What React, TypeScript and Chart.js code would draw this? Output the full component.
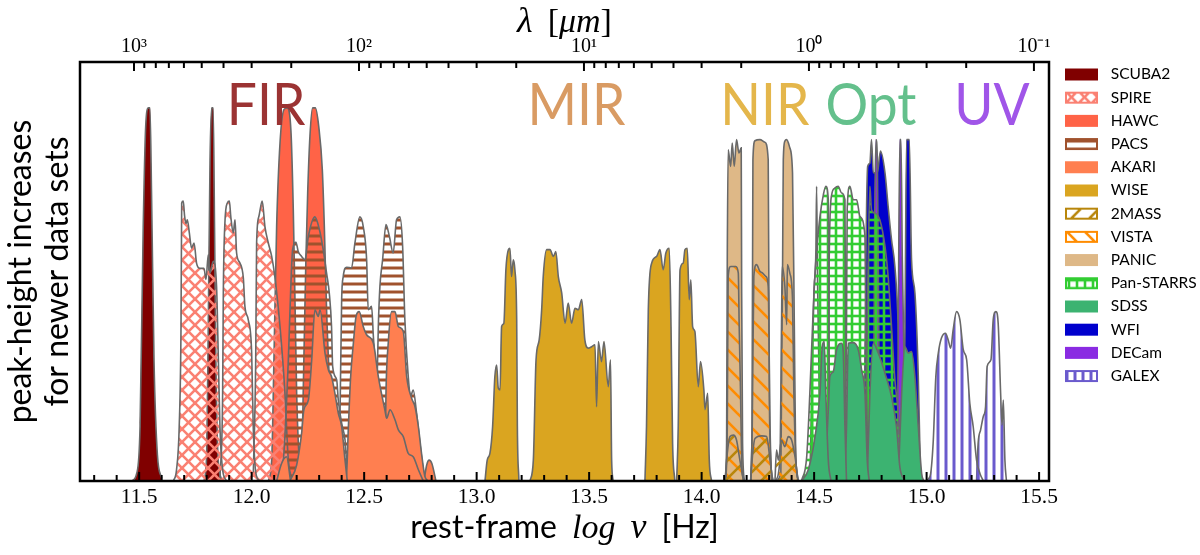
import React, { useEffect, useRef } from "react";
import { Chart, registerables } from "chart.js";

Chart.register(...registerables);

type Pair = [number, number];

const SCUBA2_A: Pair[] = [[11.467,0],[11.489,.02],[11.504,.146],[11.518,.68],[11.529,.95],[11.541,1],[11.548,1],[11.555,.77],[11.566,.32],[11.581,.07],[11.6,.007]];
const SCUBA2_B: Pair[] = [[11.788,0],[11.8,.07],[11.807,.41],[11.815,.86],[11.822,1],[11.829,1],[11.835,.68],[11.841,.32],[11.85,.07],[11.866,.003]];
const SPIRE_A: Pair[] = [[11.652,0],[11.666,.03],[11.678,.146],[11.686,.414],[11.689,.745],[11.696,.75],[11.702,.71],[11.708,.69],[11.714,.7],[11.723,.665],[11.733,.624],[11.744,.638],[11.755,.584],[11.77,.57],[11.788,.57],[11.797,.54],[11.807,.606],[11.815,.557],[11.829,.589],[11.844,.521],[11.852,.325],[11.859,.146],[11.871,.03],[11.889,0]];
const SPIRE_B: Pair[] = [[11.859,.007],[11.871,.235],[11.874,.504],[11.881,.691],[11.892,.745],[11.901,.75],[11.907,.71],[11.918,.665],[11.926,.7],[11.933,.611],[11.948,.584],[11.963,.544],[11.97,.468],[11.985,.432],[12,.343],[12.007,.146],[12.019,.02],[12.037,0]];
const SPIRE_C: Pair[] = [[12.007,.012],[12.018,.325],[12.022,.638],[12.032,.709],[12.047,.75],[12.059,.682],[12.074,.638],[12.089,.602],[12.103,.548],[12.126,.414],[12.148,.235],[12.163,.056],[12.185,0]];
const HAWC_A: Pair[] = [[12.074,0],[12.089,.056],[12.099,.325],[12.111,.682],[12.126,.906],[12.144,.996],[12.158,1],[12.175,.933],[12.185,.727],[12.192,.504],[12.2,.235],[12.215,.03],[12.229,0]];
const HAWC_B: Pair[] = [[12.207,0],[12.222,.056],[12.232,.325],[12.241,.593],[12.249,.772],[12.259,.924],[12.271,1],[12.283,1],[12.298,.951],[12.314,.835],[12.323,.682],[12.333,.459],[12.348,.235],[12.363,.056],[12.378,0]];
const PACS_A: Pair[] = [[12.118,0],[12.141,.056],[12.163,.325],[12.173,.504],[12.182,.62],[12.197,.64],[12.207,.615],[12.222,.602],[12.237,.593],[12.252,.656],[12.281,.708],[12.301,.674],[12.318,.62],[12.333,.557],[12.345,.504],[12.355,.414],[12.36,.307],[12.378,.271],[12.385,.217],[12.4,.155],[12.415,.11],[12.425,.03],[12.44,0]];
const PACS_B: Pair[] = [[12.385,0],[12.392,.146],[12.4,.486],[12.407,.548],[12.422,.573],[12.444,.571],[12.459,.638],[12.481,.708],[12.496,.682],[12.511,.593],[12.518,.459],[12.533,.468],[12.541,.387],[12.548,.325],[12.563,.208],[12.578,.191],[12.592,.146],[12.607,0]];
const PACS_C: Pair[] = [[12.548,0],[12.563,.414],[12.57,.521],[12.582,.593],[12.597,.687],[12.612,.656],[12.629,.611],[12.644,.7],[12.659,.708],[12.671,.629],[12.681,.432],[12.696,.28],[12.706,.226],[12.718,.244],[12.733,.182],[12.748,.101],[12.763,.03],[12.778,0]];
const AKARI_A: Pair[] = [[12.111,0],[12.133,.047],[12.155,.065],[12.173,0]];
const AKARI_B: Pair[] = [[12.17,0],[12.2,.043],[12.222,.128],[12.232,.191],[12.252,.217],[12.267,.325],[12.281,.459],[12.296,.441],[12.304,.459],[12.326,.343],[12.341,.298],[12.355,.28],[12.37,.235],[12.385,.182],[12.4,.146],[12.415,.056],[12.425,0]];
const AKARI_C: Pair[] = [[12.415,0],[12.422,.02],[12.43,.146],[12.44,.28],[12.452,.369],[12.464,.441],[12.478,.454],[12.496,.414],[12.511,.392],[12.541,.369],[12.563,.28],[12.592,.191],[12.6,.168],[12.615,.191],[12.637,.164],[12.652,.137],[12.674,.119],[12.696,.074],[12.718,.065],[12.741,.03],[12.763,0]];
const AKARI_D: Pair[] = [[12.592,0],[12.597,.235],[12.607,.369],[12.622,.454],[12.637,.454],[12.652,.414],[12.674,.401],[12.689,.28],[12.711,.222],[12.726,.199],[12.741,.146],[12.755,.074],[12.77,.012],[12.785,0]];
const AKARI_E: Pair[] = [[12.766,0],[12.778,.043],[12.789,.056],[12.801,.047],[12.819,0]];
const WISE_A: Pair[] = [[13.037,0],[13.047,.056],[13.059,.074],[13.071,.146],[13.081,.28],[13.089,.311],[13.096,.249],[13.104,.244],[13.111,.414],[13.121,.423],[13.13,.566],[13.141,.62],[13.148,.624],[13.155,.548],[13.163,.593],[13.17,.566],[13.178,.432],[13.181,.146],[13.188,0]];
const WISE_B: Pair[] = [[13.237,0],[13.252,.056],[13.264,.325],[13.278,.378],[13.289,.459],[13.296,.548],[13.311,.62],[13.326,.62],[13.341,.602],[13.352,.615],[13.363,.548],[13.378,.504],[13.393,.423],[13.407,.477],[13.422,.423],[13.437,.463],[13.452,.459],[13.467,.486],[13.481,.378],[13.496,.356],[13.511,.36],[13.526,.365],[13.533,.199],[13.541,.374],[13.555,.32],[13.566,.374],[13.585,.253],[13.595,.325],[13.6,.056],[13.607,0]];
const WISE_C: Pair[] = [[13.748,0],[13.755,.146],[13.763,.459],[13.778,.584],[13.8,.602],[13.815,.62],[13.829,.566],[13.841,.611],[13.856,.624],[13.864,.414],[13.871,.101],[13.881,0]];
const WISE_D: Pair[] = [[13.889,0],[13.896,.146],[13.904,.566],[13.918,.584],[13.926,.62],[13.936,.624],[13.945,.486],[13.952,.539],[13.96,.414],[13.97,.401],[13.985,.253],[13.995,.32],[14.01,.244],[14.015,.191],[14.027,.235],[14.034,.056],[14.044,0]];
const TWOMASS_A: Pair[] = [[14.104,0],[14.114,.074],[14.126,.119],[14.141,.123],[14.155,.11],[14.17,.056],[14.185,.007],[14.192,0]];
const TWOMASS_B: Pair[] = [[14.218,0],[14.227,.074],[14.237,.114],[14.267,.121],[14.289,.119],[14.304,.056],[14.316,0]];
const TWOMASS_C: Pair[] = [[14.326,0],[14.333,.083],[14.341,.056],[14.355,.11],[14.37,.092],[14.385,.119],[14.4,.11],[14.415,.065],[14.429,0]];
const VISTA_A: Pair[] = [[14.108,0],[14.114,.146],[14.118,.548],[14.129,.575],[14.152,.575],[14.163,.557],[14.167,.414],[14.173,.235],[14.178,.056],[14.185,0]];
const VISTA_B: Pair[] = [[14.218,0],[14.225,.146],[14.232,.548],[14.244,.58],[14.259,.562],[14.271,.557],[14.286,.548],[14.296,.521],[14.304,.146],[14.311,0]];
const VISTA_C: Pair[] = [[14.326,0],[14.348,.056],[14.355,.414],[14.358,.575],[14.37,.521],[14.378,.419],[14.381,.58],[14.392,.557],[14.404,.486],[14.41,.235],[14.419,.056],[14.429,0]];
const PANIC_A: Pair[] = [[14.104,0],[14.111,.101],[14.114,.593],[14.118,.888],[14.129,.843],[14.136,.906],[14.145,.843],[14.155,.915],[14.166,.879],[14.176,.893],[14.178,.504],[14.182,.101],[14.19,0]];
const PANIC_B: Pair[] = [[14.218,0],[14.224,.146],[14.228,.861],[14.237,.912],[14.259,.915],[14.281,.908],[14.296,.861],[14.301,.235],[14.307,.056],[14.318,0]];
const PANIC_C: Pair[] = [[14.326,0],[14.352,.02],[14.355,.235],[14.36,.593],[14.363,.861],[14.37,.911],[14.378,.915],[14.392,.893],[14.404,.826],[14.412,.414],[14.418,.074],[14.429,0]];
const PANSTARRS_A: Pair[] = [[14.444,0],[14.467,.065],[14.481,.235],[14.496,.459],[14.508,.593],[14.526,.709],[14.541,.767],[14.552,.79],[14.563,.754],[14.567,.235],[14.573,0]];
const PANSTARRS_B: Pair[] = [[14.563,0],[14.567,.593],[14.578,.767],[14.592,.785],[14.607,.79],[14.622,.772],[14.637,.754],[14.641,.235],[14.647,0]];
const PANSTARRS_C: Pair[] = [[14.637,0],[14.644,.414],[14.647,.727],[14.659,.79],[14.674,.754],[14.689,.754],[14.704,.709],[14.726,.656],[14.733,.235],[14.742,0]];
const PANSTARRS_D: Pair[] = [[14.726,0],[14.736,.414],[14.748,.79],[14.755,.727],[14.77,.718],[14.792,.7],[14.815,.629],[14.829,.548],[14.844,.414],[14.859,.271],[14.874,.182],[14.889,.02],[14.904,0]];
const PANSTARRS_E: Pair[] = [[14.481,0],[14.493,.325],[14.499,.504],[14.508,.62],[14.511,.79],[14.515,.548],[14.523,.235],[14.533,0]];
const SDSS_A: Pair[] = [[14.444,0],[14.474,.03],[14.504,.119],[14.526,.235],[14.536,.36],[14.545,.374],[14.552,.235],[14.563,.056],[14.575,0]];
const SDSS_B: Pair[] = [[14.548,0],[14.563,.191],[14.57,.28],[14.585,.293],[14.6,.352],[14.622,.369],[14.629,.352],[14.637,.146],[14.644,0]];
const SDSS_C: Pair[] = [[14.637,0],[14.644,.146],[14.652,.369],[14.674,.371],[14.696,.352],[14.711,.298],[14.726,.235],[14.736,.056],[14.745,0]];
const SDSS_D: Pair[] = [[14.736,0],[14.748,.235],[14.763,.369],[14.785,.343],[14.815,.289],[14.844,.226],[14.866,.146],[14.881,.038],[14.904,0]];
const SDSS_E: Pair[] = [[14.874,0],[14.889,.235],[14.904,.36],[14.918,.343],[14.933,.347],[14.948,.28],[14.963,.146],[14.978,.02],[14.988,0]];
const WFI_A: Pair[] = [[14.721,0],[14.73,.593],[14.738,.843],[14.748,.852],[14.755,.915],[14.763,.826],[14.781,.826],[14.795,.884],[14.815,.826],[14.829,.736],[14.844,.647],[14.859,.575],[14.874,.414],[14.884,.146],[14.896,0]];
const WFI_B: Pair[] = [[14.896,0],[14.904,.414],[14.911,.915],[14.923,.915],[14.933,.593],[14.948,.504],[14.963,.28],[14.973,0]];
const DECAM_A: Pair[] = [[14.763,0],[14.769,.682],[14.775,.915],[14.781,.861],[14.785,.593],[14.792,0]];
const DECAM_B: Pair[] = [[14.87,0],[14.875,.504],[14.881,.915],[14.886,.915],[14.892,.593],[14.902,.235],[14.914,0]];
const GALEX_A: Pair[] = [[14.992,0],[15.015,.012],[15.029,.101],[15.041,.28],[15.052,.343],[15.066,.383],[15.084,.396],[15.096,.378],[15.107,.356],[15.118,.405],[15.133,.454],[15.148,.432],[15.163,.352],[15.178,.325],[15.192,.208],[15.207,.146],[15.222,.056],[15.237,.02],[15.252,0]];
const GALEX_B: Pair[] = [[15.222,0],[15.229,.101],[15.24,.137],[15.252,.173],[15.262,.199],[15.269,.307],[15.286,.325],[15.296,.432],[15.308,.454],[15.318,.423],[15.329,.235],[15.335,.15],[15.341,.217],[15.348,.056],[15.355,0]];

// legend order; layer = painting order (higher paints on top)
const INSTRUMENTS = [
  { name: "SCUBA2", layer: 0, color: "#800000", bands: [SCUBA2_A, SCUBA2_B] },
  { name: "SPIRE", layer: 2, hatch: "x", tile: 13, lw: 2.6, color: "#fa8072", bands: [SPIRE_A, SPIRE_B, SPIRE_C] },
  { name: "HAWC", layer: 1, color: "#ff6347", bands: [HAWC_A, HAWC_B] },
  { name: "PACS", layer: 3, hatch: "-", tile: 8, lw: 3, color: "#a0522d", bands: [PACS_A, PACS_B, PACS_C] },
  { name: "AKARI", layer: 4, color: "#ff7f50", bands: [AKARI_A, AKARI_B, AKARI_C, AKARI_D, AKARI_E] },
  { name: "WISE", layer: 5, color: "#daa520", bands: [WISE_A, WISE_B, WISE_C, WISE_D] },
  { name: "2MASS", layer: 8, hatch: "/", tile: 18, lw: 2.6, color: "#b8860b", bands: [TWOMASS_A, TWOMASS_B, TWOMASS_C] },
  { name: "VISTA", layer: 7, hatch: "\\", tile: 18, lw: 2.6, color: "#ff8c00", bands: [VISTA_A, VISTA_B, VISTA_C] },
  { name: "PANIC", layer: 6, color: "#deb887", bands: [PANIC_A, PANIC_B, PANIC_C] },
  { name: "Pan-STARRS", layer: 11, hatch: "+", tile: 8, lw: 2.6, color: "#32cd32", bands: [PANSTARRS_A, PANSTARRS_B, PANSTARRS_C, PANSTARRS_D, PANSTARRS_E] },
  { name: "SDSS", layer: 12, color: "#3cb371", bands: [SDSS_A, SDSS_B, SDSS_C, SDSS_D, SDSS_E] },
  { name: "WFI", layer: 9, color: "#0000cd", bands: [WFI_A, WFI_B] },
  { name: "DECam", layer: 10, color: "#8a2be2", bands: [DECAM_A, DECAM_B] },
  { name: "GALEX", layer: 13, hatch: "|", tile: 8, lw: 3, color: "#6a5acd", bands: [GALEX_A, GALEX_B] },
];

const REGION_NAMES = ["FIR", "MIR", "NIR", "Opt", "UV"];
const REGION_X = [12.064, 13.444, 14.281, 14.753, 15.29];
const REGION_COLORS = ["#9b3333", "#d99b63", "#e4b64b", "#64c08c", "#a055e8"];
const REGION_Y = 0.954;

const X_MIN = 11.237;
const X_MAX = 15.544;
const Y_MAX = 1.123;
const X_MAJOR = [11.5, 12, 12.5, 13, 13.5, 14, 14.5, 15, 15.5];
const X_MINOR = [11.3, 11.4, 11.6, 11.7, 11.8, 11.9, 12.1, 12.2, 12.3, 12.4, 12.6, 12.7, 12.8, 12.9, 13.1, 13.2, 13.3, 13.4, 13.6, 13.7, 13.8, 13.9, 14.1, 14.2, 14.3, 14.4, 14.6, 14.7, 14.8, 14.9, 15.1, 15.2, 15.3, 15.4];
const LAMBDA_MAJOR = [1000, 100, 10, 1, 0.1];
const LAMBDA_LABELS = ["10³", "10²", "10¹", "10⁰", "10⁻¹"];
const LAMBDA_MINOR = [900, 800, 700, 600, 500, 400, 300, 200, 90, 80, 70, 60, 50, 40, 30, 20, 9, 8, 7, 6, 5, 4, 3, 2, 0.9, 0.8, 0.7, 0.6, 0.5, 0.4, 0.3, 0.2];
const LOG_C_MICRON = 14.477;

const Y_TITLE = ["peak-height increases", "for newer data sets"];
const SANS = "Lato, 'Open Sans', sans-serif";
const SERIF = "'Liberation Serif', serif";
const X_TITLE = [
  { text: "rest-frame", font: `32px ${SANS}`, gap: 15 },
  { text: "log", font: `italic 34px ${SERIF}`, gap: 15 },
  { text: "ν", font: `italic 36px ${SERIF}`, gap: 15 },
  { text: "[Hz]", font: `32px ${SANS}`, gap: 0 },
];
const TOP_TITLE = [
  { text: "λ", font: `italic 36px ${SERIF}`, gap: 15 },
  { text: "[", font: `34px ${SERIF}`, gap: 0 },
  { text: "μm", font: `italic 34px ${SERIF}`, gap: 0 },
  { text: "]", font: `34px ${SERIF}`, gap: 0 },
];

function makeTile(kind: string, size: number, color: string, lw: number): HTMLCanvasElement {
  const c = document.createElement("canvas");
  c.width = size;
  c.height = size;
  const g = c.getContext("2d")!;
  g.strokeStyle = color;
  g.lineWidth = lw;
  const seg = (a: number, b: number, d: number, e: number) => {
    g.beginPath();
    g.moveTo(a, b);
    g.lineTo(d, e);
    g.stroke();
  };
  const slash = () => {
    seg(-size, size, size, -size);
    seg(0, size, size, 0);
    seg(0, 2 * size, 2 * size, 0);
  };
  const back = () => {
    seg(0, -size, 2 * size, size);
    seg(0, 0, size, size);
    seg(-size, 0, size, 2 * size);
  };
  if (kind === "/" || kind === "x") slash();
  if (kind === "\\" || kind === "x") back();
  if (kind === "-" || kind === "+") seg(0, size / 2, size, size / 2);
  if (kind === "|") seg(2, 0, 2, size);
  if (kind === "+") seg(size / 2, 0, size / 2, size);
  return c;
}

function makeSwatch(color: string, kind?: string, tile?: number, lw?: number): HTMLCanvasElement {
  const c = document.createElement("canvas");
  c.width = 38;
  c.height = 14;
  const g = c.getContext("2d")!;
  if (kind) {
    g.fillStyle = g.createPattern(makeTile(kind, tile!, color, lw!), "repeat")!;
    g.fillRect(0, 1, 33, 12);
    g.strokeStyle = color;
    g.lineWidth = 2;
    g.strokeRect(1, 2, 31, 10);
  } else {
    g.fillStyle = color;
    g.fillRect(0, 1, 33, 12);
  }
  return c;
}

function drawRuns(ctx: CanvasRenderingContext2D, runs: { text: string; font: string; gap: number }[], cx: number, cy: number) {
  ctx.save();
  ctx.textAlign = "left";
  ctx.textBaseline = "alphabetic";
  ctx.fillStyle = "#000";
  let total = 0;
  runs.forEach((r) => {
    ctx.font = r.font;
    total += ctx.measureText(r.text).width + r.gap;
  });
  let x = cx - total / 2;
  runs.forEach((r) => {
    ctx.font = r.font;
    ctx.fillText(r.text, x, cy);
    x += ctx.measureText(r.text).width + r.gap;
  });
  ctx.restore();
}

const figurePlugin = {
  id: "figure",
  beforeLayout(chart: any) {
    const l = chart.legend;
    if (l && !l.__fixed) {
      const fit = l.fit.bind(l);
      l.fit = () => {
        fit();
        l.width = 151;
      };
      l.__fixed = true;
    }
  },
  afterLayout(chart: any) {
    chart.legend.left = 1057.3;
    chart.legend.top = 59;
  },
  afterDatasetsDraw(chart: any) {
    const { ctx, chartArea: a, scales } = chart;
    ctx.save();
    ctx.textAlign = "center";
    ctx.textBaseline = "alphabetic";
    ctx.font = `400 58px ${SANS}`;
    REGION_NAMES.forEach((name, i) => {
      ctx.save();
      ctx.fillStyle = REGION_COLORS[i];
      ctx.translate(scales.x.getPixelForValue(REGION_X[i]), scales.y.getPixelForValue(REGION_Y));
      ctx.scale(0.92, 1);
      ctx.fillText(name, 0, 0);
      ctx.restore();
    });
    ctx.strokeStyle = "#000";
    ctx.lineWidth = 2;
    scales.x.ticks.forEach((t: any) => {
      const p = scales.x.getPixelForValue(t.value);
      ctx.beginPath();
      ctx.moveTo(p, a.bottom);
      ctx.lineTo(p, a.bottom - (X_MAJOR.includes(t.value) ? 9 : 6));
      ctx.stroke();
    });
    scales.x2.ticks.forEach((t: any) => {
      const p = scales.x2.getPixelForValue(t.value);
      ctx.beginPath();
      ctx.moveTo(p, a.top);
      ctx.lineTo(p, a.top + (t.major ? 9 : 6));
      ctx.stroke();
    });
    ctx.lineWidth = 2.5;
    ctx.strokeRect(a.left, a.top, a.right - a.left, a.bottom - a.top);
    ctx.restore();
    drawRuns(ctx, X_TITLE, (a.left + a.right) / 2, 538);
    drawRuns(ctx, TOP_TITLE, (a.left + a.right) / 2, 32);
  },
};

export default function App() {
  const ref = useRef<HTMLCanvasElement>(null);
  useEffect(() => {
    const ctx = ref.current!.getContext("2d")!;
    const datasets: any[] = [];
    const swatches: any[] = [];
    INSTRUMENTS.forEach((inst: any) => {
      const fill = inst.hatch ? ctx.createPattern(makeTile(inst.hatch, inst.tile, inst.color, inst.lw), "repeat") : inst.color;
      swatches.push({ text: inst.name, pointStyle: makeSwatch(inst.color, inst.hatch, inst.tile, inst.lw), datasetIndex: datasets.length, hidden: false, fontColor: "#000" });
      inst.bands.forEach((band: Pair[]) => {
        datasets.push({
          label: inst.name,
          data: band.map(([x, y]) => ({ x, y })),
          order: -inst.layer,
          fill: "origin",
          backgroundColor: fill,
          borderColor: "#696969",
          borderWidth: 1.6,
          pointRadius: 0,
          cubicInterpolationMode: "monotone",
          xAxisID: "x",
          yAxisID: "y",
        });
      });
    });
    const chart = new Chart(ref.current!, {
      type: "line",
      data: { datasets },
      plugins: [figurePlugin],
      options: {
        animation: false,
        responsive: false,
        devicePixelRatio: 1,
        layout: { padding: 0 },
        plugins: {
          tooltip: { enabled: false },
          legend: {
            position: "right",
            align: "start",
            labels: {
              usePointStyle: true,
              pointStyleWidth: 38,
              font: { family: SANS, size: 15.5 },
              color: "#000",
              padding: 7.7,
              generateLabels: () => swatches,
            },
          },
        },
        scales: {
          x: {
            type: "linear",
            position: "bottom",
            min: X_MIN,
            max: X_MAX,
            grid: { display: false },
            border: { display: false },
            afterBuildTicks: (s: any) => {
              s.ticks = [...X_MAJOR, ...X_MINOR].sort((p, q) => p - q).map((value) => ({ value }));
            },
            afterFit: (s: any) => {
              s.height = 74;
            },
            ticks: {
              autoSkip: false,
              maxRotation: 0,
              padding: -5,
              color: "#000",
              font: { family: SERIF, size: 21.5 },
              callback: (v: any) => (X_MAJOR.includes(v) ? Number(v).toFixed(1) : ""),
            },
          },
          x2: {
            type: "linear",
            position: "top",
            min: X_MIN,
            max: X_MAX,
            grid: { display: false },
            border: { display: false },
            afterBuildTicks: (s: any) => {
              s.ticks = [
                ...LAMBDA_MAJOR.map((l, i) => ({ value: LOG_C_MICRON - Math.log10(l), major: true, lab: LAMBDA_LABELS[i] })),
                ...LAMBDA_MINOR.map((l) => ({ value: LOG_C_MICRON - Math.log10(l), major: false, lab: "" })),
              ].sort((p, q) => p.value - q.value);
            },
            afterFit: (s: any) => {
              s.height = 62;
            },
            ticks: {
              autoSkip: false,
              maxRotation: 0,
              padding: -5,
              color: "#000",
              font: { family: SERIF, size: 20 },
              callback: function (this: any, _v: any, i: number) {
                return this.ticks[i].lab;
              },
            },
          },
          y: {
            type: "linear",
            min: 0,
            max: Y_MAX,
            grid: { display: false },
            border: { display: false },
            ticks: { display: false },
            afterFit: (s: any) => {
              s.width = 80;
            },
            title: {
              display: true,
              text: Y_TITLE,
              color: "#000",
              font: { family: SANS, size: 32, lineHeight: 1.16 },
              padding: { top: 2, bottom: 0 },
            },
          },
        },
      },
    } as any);
    return () => chart.destroy();
  }, []);
  return (
    <div style={{ position: "absolute", left: 0, top: 0, width: 1200, height: 555 }}>
      <canvas ref={ref} width={1200} height={555} style={{ display: "block" }} />
    </div>
  );
}
